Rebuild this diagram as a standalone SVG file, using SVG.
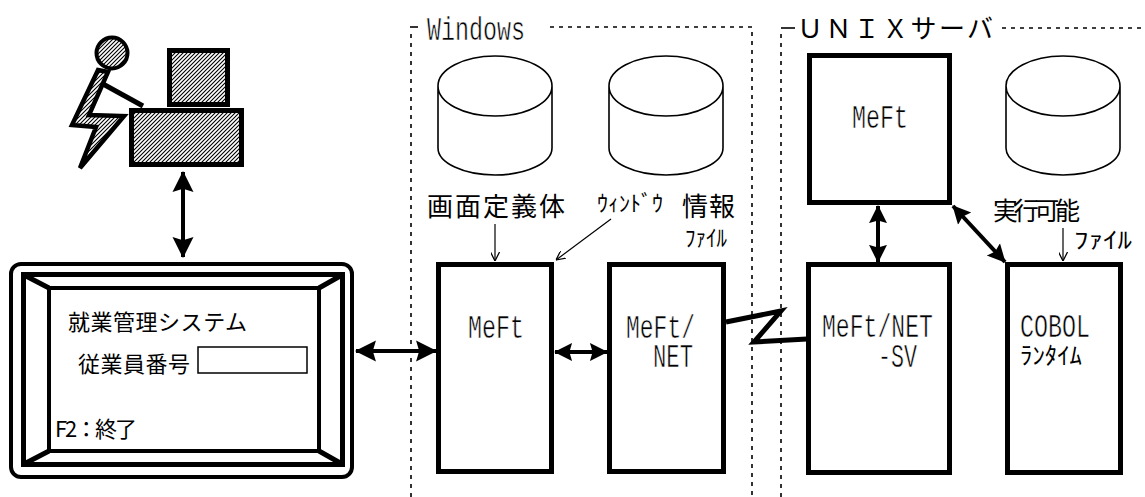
<svg xmlns="http://www.w3.org/2000/svg" width="1145" height="497" viewBox="0 0 1145 497">
  <style>
    .zone { fill: none; stroke: #000; stroke-width: 1.6; stroke-dasharray: 4 5; }
    .tick { fill: none; stroke: #000; stroke-width: 1.6; }
    .box { fill: #fff; stroke: #000; stroke-width: 5; }
    .drum { fill: #fff; stroke: #000; stroke-width: 1.6; }
    .link { fill: none; stroke: #000; stroke-width: 4; }
    .lead { fill: none; stroke: #000; stroke-width: 1.2; }
    .mono { font-family: "Liberation Mono", "DejaVu Sans Mono", monospace; font-size: 33px; fill: #000; stroke: #fff; stroke-width: 0.6px; }
    .jp { font-family: "Noto Sans CJK JP", "Noto Sans", sans-serif; fill: #000; stroke: none; }
  </style>
  <defs>
    <pattern id="hatch" width="4" height="4" patternUnits="userSpaceOnUse">
      <rect width="4" height="4" fill="#fff"/>
      <path d="M-1,1 L1,-1 M0,4 L4,0 M3,5 L5,3" stroke="#000" stroke-width="1.1"/>
    </pattern>
    <marker id="head" viewBox="0 0 20 20" markerWidth="21" markerHeight="22" refX="19" refY="10" orient="auto-start-reverse" markerUnits="userSpaceOnUse">
      <path d="M0,0 L20,10 L0,20 L3,10 Z" fill="#000"/>
    </marker>
    <marker id="headS" viewBox="0 0 20 20" markerWidth="18" markerHeight="21" refX="19" refY="10" orient="auto-start-reverse" markerUnits="userSpaceOnUse">
      <path d="M0,0 L20,10 L0,20 L3,10 Z" fill="#000"/>
    </marker>
    <marker id="open" viewBox="0 0 10 10" markerWidth="9" markerHeight="9" refX="10" refY="5" orient="auto" markerUnits="userSpaceOnUse">
      <path d="M0,0 L10,5 L0,10" fill="none" stroke="#000" stroke-width="1.4"/>
    </marker>
  </defs>

  <rect width="1145" height="497" fill="#fff"/>

  <!-- dashed zones -->
  <g id="zone-windows">
    <path class="tick" d="M410,27 H418"/>
    <path class="zone" d="M411,34 V497"/>
    <path class="zone" d="M550,27 H752 V497"/>
    <text class="mono" x="427" y="40" font-size="29" textLength="98" lengthAdjust="spacingAndGlyphs">Windows</text>
  </g>
  <g id="zone-unix">
    <path class="tick" d="M781,28 H795"/>
    <path class="zone" d="M781,34 V497"/>
    <path class="zone" d="M1002,28 H1145"/>
    <text class="jp" x="797" y="38" font-size="26" textLength="196">ＵＮＩＸサーバ</text>
  </g>

  <!-- operator at the workstation -->
  <g id="operator">
    <rect x="131.5" y="110.5" width="110" height="54" fill="url(#hatch)" stroke="#000" stroke-width="5"/>
    <rect x="169.5" y="50.5" width="58" height="54" fill="url(#hatch)" stroke="#000" stroke-width="5"/>
    <circle cx="112" cy="53" r="15.5" fill="url(#hatch)" stroke="#000" stroke-width="4"/>
    <polygon points="98,70 108,72 89,115 124,116 80,168 96,127 72,125" fill="url(#hatch)" stroke="#000" stroke-width="4.5" stroke-linejoin="miter"/>
    <line x1="103" y1="84" x2="143" y2="106" stroke="#000" stroke-width="5"/>
  </g>

  <!-- terminal screen -->
  <g id="screen">
    <rect x="11" y="264" width="341" height="213" rx="10" fill="#fff" stroke="#000" stroke-width="4"/>
    <rect x="23.5" y="274.5" width="319" height="190" fill="#fff" stroke="#000" stroke-width="5"/>
    <rect x="49" y="288" width="270" height="163" fill="#fff" stroke="#000" stroke-width="4"/>
    <path d="M24,275 L49,288 M342,275 L319,288 M24,464 L49,451 M342,464 L319,451" stroke="#000" stroke-width="5"/>
    <text class="jp" x="68" y="330" font-size="22" textLength="179">就業管理システム</text>
    <text class="jp" x="78" y="372" font-size="22" textLength="112">従業員番号</text>
    <rect x="198" y="347" width="109" height="26" fill="#fff" stroke="#000" stroke-width="1.5"/>
    <text class="jp" x="55" y="437" font-size="22" textLength="82">F2：終了</text>
  </g>

  <!-- file stores -->
  <g id="store-screen-def">
    <path class="drum" d="M438,86 A57,30 0 0 1 552,86 A57,30 0 0 1 438,86 Z M438,86 V148 A57,27 0 0 0 552,148 V86"/>
    <text class="jp" x="427" y="216" font-size="26" textLength="138">画面定義体</text>
  </g>
  <g id="store-window-info">
    <path class="drum" d="M609,86 A57,30 0 0 1 723,86 A57,30 0 0 1 609,86 Z M609,86 V148 A57,27 0 0 0 723,148 V86"/>
    <text class="jp" x="597" y="211" font-size="22" textLength="66" lengthAdjust="spacingAndGlyphs">ｳｨﾝﾄﾞｳ</text>
    <text class="jp" font-size="26"><tspan x="682" y="216" textLength="53">情報</tspan><tspan x="685" y="246" font-size="23" textLength="42" lengthAdjust="spacingAndGlyphs">ﾌｧｲﾙ</tspan></text>
  </g>
  <g id="store-executable">
    <path class="drum" d="M1006,86 A57,30 0 0 1 1120,86 A57,30 0 0 1 1006,86 Z M1006,86 V148 A57,27 0 0 0 1120,148 V86"/>
    <text class="jp" font-size="25"><tspan x="993" y="220" textLength="87">実行可能</tspan><tspan x="1074" y="248" font-size="23" textLength="58" lengthAdjust="spacingAndGlyphs">ﾌｧｲﾙ</tspan></text>
  </g>

  <!-- processes -->
  <g id="mef-win">
    <rect class="box" x="438.5" y="264.5" width="113" height="207"/>
    <text class="mono" x="468" y="338" textLength="56" lengthAdjust="spacingAndGlyphs">MeFt</text>
  </g>
  <g id="mef-net">
    <rect class="box" x="609.5" y="264.5" width="114" height="207"/>
    <text class="mono"><tspan x="626" y="338" textLength="69" lengthAdjust="spacingAndGlyphs">MeFt/</tspan><tspan x="653" y="367" textLength="40" lengthAdjust="spacingAndGlyphs">NET</tspan></text>
  </g>
  <g id="mef-unix">
    <rect class="box" x="809.5" y="55.5" width="140" height="147"/>
    <text class="mono" x="852" y="128" textLength="56" lengthAdjust="spacingAndGlyphs">MeFt</text>
  </g>
  <g id="mef-net-sv">
    <rect class="box" x="808.5" y="264.5" width="141" height="208"/>
    <text class="mono"><tspan x="822" y="337" textLength="111" lengthAdjust="spacingAndGlyphs">MeFt/NET</tspan><tspan x="878" y="367" textLength="39" lengthAdjust="spacingAndGlyphs">-SV</tspan></text>
  </g>
  <g id="cobol-runtime">
    <rect class="box" x="1007.5" y="264.5" width="113" height="208"/>
    <text class="mono"><tspan x="1020" y="337" textLength="70" lengthAdjust="spacingAndGlyphs">COBOL</tspan><tspan class="jp" x="1020" y="364" font-size="24" textLength="62" lengthAdjust="spacingAndGlyphs">ﾗﾝﾀｲﾑ</tspan></text>
  </g>

  <!-- connectors -->
  <g id="connectors">
    <line class="link" x1="183" y1="172" x2="183" y2="257" marker-start="url(#head)" marker-end="url(#head)"/>
    <line class="link" x1="356" y1="351" x2="436" y2="351" stroke-width="3.5" marker-start="url(#head)" marker-end="url(#head)"/>
    <line class="link" x1="555" y1="352" x2="607" y2="352" stroke-width="3.5" marker-start="url(#headS)" marker-end="url(#headS)"/>
    <polyline points="726,322 781,311 754,342 807,339" fill="none" stroke="#000" stroke-width="5" stroke-linejoin="miter"/>
    <line class="link" x1="878" y1="206" x2="878" y2="262" marker-start="url(#headS)" marker-end="url(#headS)"/>
    <line class="link" x1="953" y1="206" x2="1005" y2="262" stroke-width="6" marker-start="url(#headS)" marker-end="url(#headS)"/>
    <line class="lead" x1="495" y1="224" x2="495" y2="261" marker-end="url(#open)"/>
    <line class="lead" x1="611" y1="219" x2="556" y2="260" marker-end="url(#open)"/>
    <line class="lead" x1="1063" y1="228" x2="1063" y2="261" marker-end="url(#open)"/>
  </g>
</svg>
